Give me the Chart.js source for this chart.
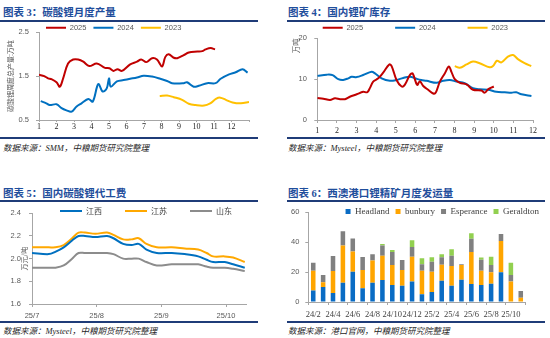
<!DOCTYPE html>
<html lang="zh-CN">
<head>
<meta charset="utf-8">
<title>碳酸锂周报图表</title>
<script src="https://cdn.jsdelivr.net/npm/chart.js@4.4.1/dist/chart.umd.min.js"></script>
<style>
  body { margin: 0; width: 550px; height: 338px; position: relative; overflow: hidden; background: #fff; }
  .title { position: absolute; font: bold 10.5px "Liberation Serif", "Noto Sans CJK SC", serif; color: #1f4e9c; white-space: nowrap; line-height: 11px; }
  .rule { position: absolute; height: 1.5px; background: #1f3c78; }
  .source { position: absolute; font: italic 8.5px "Liberation Serif", "Noto Sans CJK SC", serif; color: #262626; white-space: nowrap; line-height: 9px; }
  canvas { position: absolute; }
</style>
</head>
<body>

<div class="title" style="left:3px;top:7px">图表 3：碳酸锂月度产量</div>
<div class="rule" style="left:0;top:20px;width:258px"></div>
<canvas id="prodChart" width="258" height="120" style="left:0;top:17px"></canvas>
<div class="rule" style="left:0;top:137px;width:258px"></div>
<div class="source" style="left:3px;top:143.5px">数据来源：SMM，中粮期货研究院整理</div>

<div class="title" style="left:288px;top:7px">图表 4：国内锂矿库存</div>
<div class="rule" style="left:287px;top:20px;width:258px"></div>
<canvas id="stockChart" width="265" height="145" style="left:275px;top:-8px"></canvas>
<div class="rule" style="left:287px;top:137px;width:258px"></div>
<div class="source" style="left:288px;top:143.5px">数据来源：Mysteel，中粮期货研究院整理</div>

<div class="title" style="left:3px;top:188px">图表 5：国内碳酸锂代工费</div>
<div class="rule" style="left:0;top:200px;width:258px"></div>
<canvas id="feeChart" width="255" height="137" style="left:0;top:184px"></canvas>
<div class="rule" style="left:0;top:321px;width:258px"></div>
<div class="source" style="left:3px;top:327px">数据来源：Mysteel，中粮期货研究院整理</div>

<div class="title" style="left:288px;top:188px">图表 6：西澳港口锂精矿月度发运量</div>
<div class="rule" style="left:287px;top:200px;width:258px"></div>
<canvas id="shipChart" width="270" height="120" style="left:275px;top:201px"></canvas>
<div class="rule" style="left:287px;top:321px;width:258px"></div>
<div class="source" style="left:288px;top:327px">数据来源：港口官网，中粮期货研究院整理</div>

<script>
Chart.defaults.font.family = '"Liberation Sans", Arial, sans-serif';
Chart.defaults.color = '#595959';
Chart.defaults.animation = false;

const axisGray = '#a6a6a6';

// 图表3：碳酸锂产量（万吨），横轴为月份，周度取点
const prodX2025 = [1, 1.3, 1.52, 1.71, 2.0, 2.19, 2.38, 2.66, 2.95, 3.24, 3.53, 3.87, 4.3, 4.77, 5.02, 5.25, 5.49, 5.74, 6.21, 6.6, 6.84, 7.13, 7.46, 7.74, 8.03, 8.22, 8.41, 8.7, 8.9, 9.27, 9.56, 10.05, 10.33, 10.52, 10.81, 11.06];
const prod2025 = [1.53, 1.5, 1.45, 1.43, 1.36, 1.26, 1.45, 1.79, 1.88, 1.88, 1.83, 1.73, 1.79, 1.69, 1.68, 1.62, 1.66, 1.62, 1.77, 1.83, 1.88, 1.82, 1.91, 1.88, 1.72, 1.94, 2.0, 1.92, 1.91, 1.98, 2.04, 2.06, 2.07, 2.11, 2.14, 2.11];
const prodX2024 = [1.1, 1.42, 1.61, 2.0, 2.29, 2.57, 2.86, 3.15, 3.43, 3.82, 4.07, 4.39, 4.64, 4.87, 5.0, 5.1, 5.45, 5.83, 6.21, 6.6, 6.98, 7.46, 7.93, 8.32, 8.6, 9.27, 9.46, 9.84, 10.13, 10.61, 11.09, 11.38, 11.86, 12.24, 12.63, 12.92];
const prod2024 = [0.93, 0.88, 0.84, 0.86, 0.77, 0.72, 0.69, 0.81, 0.88, 0.98, 0.92, 1.32, 1.15, 1.22, 1.45, 1.26, 1.38, 1.41, 1.44, 1.47, 1.51, 1.49, 1.44, 1.39, 1.34, 1.34, 1.36, 1.26, 1.28, 1.34, 1.34, 1.44, 1.54, 1.59, 1.66, 1.58];
const prodX2023 = [7.9, 8.32, 8.7, 9.18, 9.56, 9.95, 10.43, 10.78, 11.11, 11.36, 11.68, 12.06, 12.54, 13];
const prod2023 = [1.05, 1.06, 1.02, 0.96, 0.87, 0.84, 0.83, 0.88, 0.98, 1.01, 0.96, 0.90, 0.88, 0.91];

// 图表4：国内锂矿库存（万吨）
const stockX2025 = [1, 1.31, 1.65, 1.9, 2.16, 2.41, 2.66, 3.01, 3.34, 3.55, 3.68, 3.85, 4.11, 4.36, 4.67, 4.79, 5.04, 5.3, 5.46, 5.72, 5.86, 6.09, 6.23, 6.39, 6.65, 6.91, 7.04, 7.25, 7.5, 7.71, 7.84, 8.01, 8.27, 8.61, 8.94, 9.37, 9.54, 9.71, 10.0];
const stock2025 = [5.4, 5.2, 4.9, 5.3, 5.1, 5.1, 5.7, 6.3, 6.9, 6.8, 7.8, 9.4, 10.2, 11.6, 13.6, 13.2, 9.8, 8.2, 8.6, 11.0, 11.4, 8.6, 9.5, 8.4, 7.4, 6.5, 6.7, 9.4, 11.4, 13.1, 11.8, 10.0, 9.1, 8.7, 7.4, 7.2, 6.7, 7.5, 8.2];
const stockX2024 = [1, 1.48, 1.78, 2.07, 2.32, 2.58, 2.75, 3.01, 3.34, 3.77, 3.94, 4.28, 4.7, 5.04, 5.38, 5.72, 6.06, 6.3, 6.57, 7.08, 7.42, 7.76, 8.1, 8.52, 8.94, 9.28, 9.71, 10.13, 10.56, 10.9, 11.15, 11.41, 11.92];
const stock2024 = [10.8, 11.1, 11.0, 10.0, 9.8, 10.2, 10.6, 10.5, 11.0, 11.8, 11.4, 10.2, 9.6, 9.8, 10.3, 10.6, 10.1, 9.8, 9.6, 9.1, 9.6, 9.8, 9.4, 9.0, 7.8, 7.5, 7.4, 6.9, 6.8, 6.7, 6.8, 6.3, 5.9];
const stockX2023 = [8.01, 8.27, 8.61, 8.94, 9.28, 9.79, 9.96, 10.16, 10.39, 10.72, 10.98, 11.23, 11.57, 11.91];
const stock2023 = [13.2, 12.8, 13.6, 14.3, 13.9, 12.9, 13.2, 14.5, 14.1, 15.5, 15.9, 14.9, 13.9, 13.2];

// 图表5：碳酸锂代工费（万元/吨），横轴为2025年月份
const feeX = [7.0, 7.26, 7.36, 7.49, 7.62, 7.72, 7.82, 7.98, 8.16, 8.26, 8.41, 8.54, 8.65, 8.77, 8.93, 9.16, 9.36, 9.57, 9.7, 9.8, 9.98, 10.11, 10.29];
const feeJiangxi = [2.05, 2.04, 2.06, 2.10, 2.16, 2.20, 2.20, 2.19, 2.20, 2.18, 2.13, 2.12, 2.13, 2.08, 2.05, 2.05, 2.04, 2.02, 1.99, 1.97, 1.97, 1.95, 1.92];
const feeJiangsu = [2.10, 2.10, 2.10, 2.12, 2.18, 2.23, 2.23, 2.22, 2.23, 2.21, 2.17, 2.17, 2.18, 2.13, 2.10, 2.10, 2.09, 2.08, 2.05, 2.02, 2.02, 2.01, 1.97];
const feeShandong = [1.92, 1.92, 1.92, 1.94, 2.00, 2.05, 2.05, 2.05, 2.05, 2.04, 2.00, 2.00, 2.00, 1.97, 1.94, 1.95, 1.95, 1.95, 1.93, 1.92, 1.92, 1.91, 1.89];

// 图表6：西澳港口锂精矿发运量（万吨）
const shipMonths = ['24/2', '24/3', '24/4', '24/5', '24/6', '24/7', '24/8', '24/9', '24/10', '24/11', '24/12',
  '25/1', '25/2', '25/3', '25/4', '25/5', '25/6', '25/7', '25/8', '25/9', '25/10', '25/11'];
const headland = [7.6, 10.0, 6.0, 12.9, 20.2, 9.1, 12.9, 14.7, 11.3, 10.9, 13.6, 5.1, 6.7, 14.2, 10.9, 14.9, 12.0, 11.3, 12.2, 19.8, 0, 0];
const bunbury = [13.3, 3.1, 14.7, 24.7, 13.4, 12.2, 14.7, 16.2, 13.4, 10.4, 16.6, 15.8, 13.5, 10.7, 13.1, 9.8, 21.3, 9.6, 7.6, 20.9, 13.6, 2.9];
const esperance = [5.3, 4.9, 10.0, 9.5, 8.8, 8.7, 4.2, 6.7, 8.6, 6.7, 6.5, 4.2, 6.7, 4.9, 6.9, 0.4, 8.9, 7.3, 4.9, 4.6, 4.4, 4.4];
const geraldton = [0, 0, 0, 0, 0, 0, 0, 1.1, 1.4, 0, 4.4, 4.0, 2.9, 2.0, 4.2, 0, 3.6, 1.4, 5.5, 0, 8.2, 0];

function pts(xs, ys) {
  return xs.map((x, i) => ({ x: x, y: ys[i] }));
}

function lineSet(label, xs, ys, color) {
  return { label: label, data: pts(xs, ys), borderColor: color, backgroundColor: color,
    borderWidth: 2, pointRadius: 0, tension: 0.35, fill: false };
}

const fixWidth = w => s => { s.width = w; };
const fixHeight = h => s => { s.height = h; };

// empty axis on the right, only there to leave room for the legend
function padAxis(w) {
  return { type: 'linear', position: 'right', grid: { display: false }, border: { display: false },
    ticks: { display: false }, afterFit: fixWidth(w) };
}

// let the legend run over the top edge of the plot
const legendOverlap = {
  id: 'legendOverlap',
  afterLayout(chart) { chart.legend.bottom += 12; }
};

const lineLegend = (padding, size, family) => ({
  usePointStyle: true, pointStyle: 'line', pointStyleWidth: 20, padding: padding,
  color: '#595959', font: { size: size, family: family }
});

const tickGrid = { drawOnChartArea: false, tickLength: 3, color: axisGray };

new Chart(document.getElementById('prodChart'), {
  type: 'line',
  data: {
    datasets: [
      lineSet('2025', prodX2025, prod2025, '#c00000'),
      lineSet('2024', prodX2024, prod2024, '#0070c0'),
      lineSet('2023', prodX2023, prod2023, '#ffc000')
    ]
  },
  options: {
    responsive: false,
    events: [],
    layout: { padding: { right: 9 } },
    plugins: {
      legend: { align: 'start', fullSize: false, maxHeight: 15.3, labels: lineLegend(7, 7.5) },
      tooltip: { enabled: false }
    },
    scales: {
      x: {
        type: 'linear', min: 1, max: 13, afterFit: fixHeight(17),
        border: { color: axisGray }, grid: { drawOnChartArea: false, tickLength: 2, color: axisGray },
        ticks: { stepSize: 1, padding: 0, color: '#262626', font: { family: 'Liberation Serif', size: 8 },
          callback: v => v < 13 ? v : '' }
      },
      y: {
        min: 0.5, max: 2.5, afterFit: fixWidth(39),
        border: { color: axisGray }, grid: tickGrid,
        ticks: { stepSize: 1, padding: 7, font: { size: 7.5 }, callback: v => v.toFixed(1) },
        title: { display: true, text: '碳酸锂周度总产量:万吨', color: '#595959',
          font: { size: 7, family: 'Noto Sans CJK SC' }, padding: { top: 6.5, bottom: 0 } }
      }
    }
  }
});

new Chart(document.getElementById('stockChart'), {
  type: 'line',
  data: {
    datasets: [
      lineSet('2025', stockX2025, stock2025, '#c00000'),
      lineSet('2024', stockX2024, stock2024, '#0070c0'),
      lineSet('2023', stockX2023, stock2023, '#ffc000')
    ]
  },
  options: {
    responsive: false,
    events: [],
    plugins: {
      legend: { align: 'end', maxHeight: 46.3, labels: lineLegend(32, 7.5) },
      tooltip: { enabled: false }
    },
    scales: {
      x: {
        type: 'linear', min: 1, max: 12, afterFit: fixHeight(17),
        border: { color: axisGray }, grid: tickGrid,
        ticks: { stepSize: 1, padding: 3, color: '#262626', font: { family: 'Liberation Serif', size: 8 } }
      },
      y: {
        min: 0, max: 20, afterFit: fixWidth(42.3),
        border: { color: axisGray }, grid: tickGrid,
        ticks: { stepSize: 10, padding: 7.5, font: { size: 7.5 } },
        title: { display: true, text: '万吨', align: 'end', color: '#595959',
          font: { size: 7.5, family: 'Noto Sans CJK SC' }, padding: { top: 17, bottom: 0 } }
      },
      yPad: padAxis(6.7)
    }
  }
});

new Chart(document.getElementById('feeChart'), {
  type: 'line',
  data: {
    datasets: [
      lineSet('江西', feeX, feeJiangxi, '#0070c0'),
      lineSet('江苏', feeX, feeJiangsu, '#ffa800'),
      lineSet('山东', feeX, feeShandong, '#8c8c8c')
    ]
  },
  options: {
    responsive: false,
    events: [],
    plugins: {
      legend: { align: 'end', maxHeight: 29.3,
        labels: Object.assign(lineLegend(23, 8, 'Noto Sans CJK SC'), { pointStyleWidth: 22, color: '#404040' }) },
      tooltip: { enabled: false }
    },
    scales: {
      x: {
        type: 'linear', min: 7, max: 10.32, afterFit: fixHeight(17),
        border: { color: axisGray }, grid: tickGrid,
        ticks: { stepSize: 1, includeBounds: false, padding: 4, font: { size: 7.5 }, callback: v => '25/' + v }
      },
      y: {
        min: 1.6, max: 2.4, afterFit: fixWidth(32),
        border: { color: axisGray }, grid: tickGrid,
        ticks: { stepSize: 0.2, padding: 8, font: { size: 7.5 }, callback: v => v.toFixed(1) },
        title: { display: true, text: '万元/吨', color: '#595959',
          font: { size: 7, family: 'Noto Sans CJK SC' }, padding: { top: 20, bottom: 0 } }
      },
      yPad: padAxis(8.3)
    }
  },
  plugins: [legendOverlap]
});

new Chart(document.getElementById('shipChart'), {
  type: 'bar',
  data: {
    labels: shipMonths,
    datasets: [
      { label: 'Headland', data: headland, backgroundColor: '#0a6cc4' },
      { label: 'bunbury', data: bunbury, backgroundColor: '#ffa500' },
      { label: 'Esperance', data: esperance, backgroundColor: '#808080' },
      { label: 'Geraldton', data: geraldton, backgroundColor: '#92d050' }
    ]
  },
  options: {
    responsive: false,
    events: [],
    datasets: { bar: { barPercentage: 0.46, categoryPercentage: 1 } },
    plugins: {
      legend: { align: 'end', maxHeight: 11,
        labels: { boxWidth: 5, boxHeight: 5, padding: 6, color: '#404040', font: { family: 'Liberation Serif', size: 9 } } },
      tooltip: { enabled: false }
    },
    scales: {
      x: {
        stacked: true, afterFit: fixHeight(19),
        border: { color: axisGray },
        grid: { drawOnChartArea: false, tickLength: 3, color: c => c.index % 2 ? 'rgba(0,0,0,0)' : axisGray },
        ticks: { autoSkip: false, maxRotation: 0, padding: 5, color: '#404040',
          font: { family: 'Liberation Serif', size: 8.5 }, callback: (v, i) => i % 2 ? '' : shipMonths[i] }
      },
      y: {
        stacked: true, min: 0, max: 60, afterFit: fixWidth(33.3),
        border: { color: axisGray }, grid: tickGrid,
        ticks: { stepSize: 20, padding: 6, font: { size: 7.5 } }
      },
      yPad: padAxis(19.3)
    }
  },
  plugins: [legendOverlap]
});
</script>
</body>
</html>
